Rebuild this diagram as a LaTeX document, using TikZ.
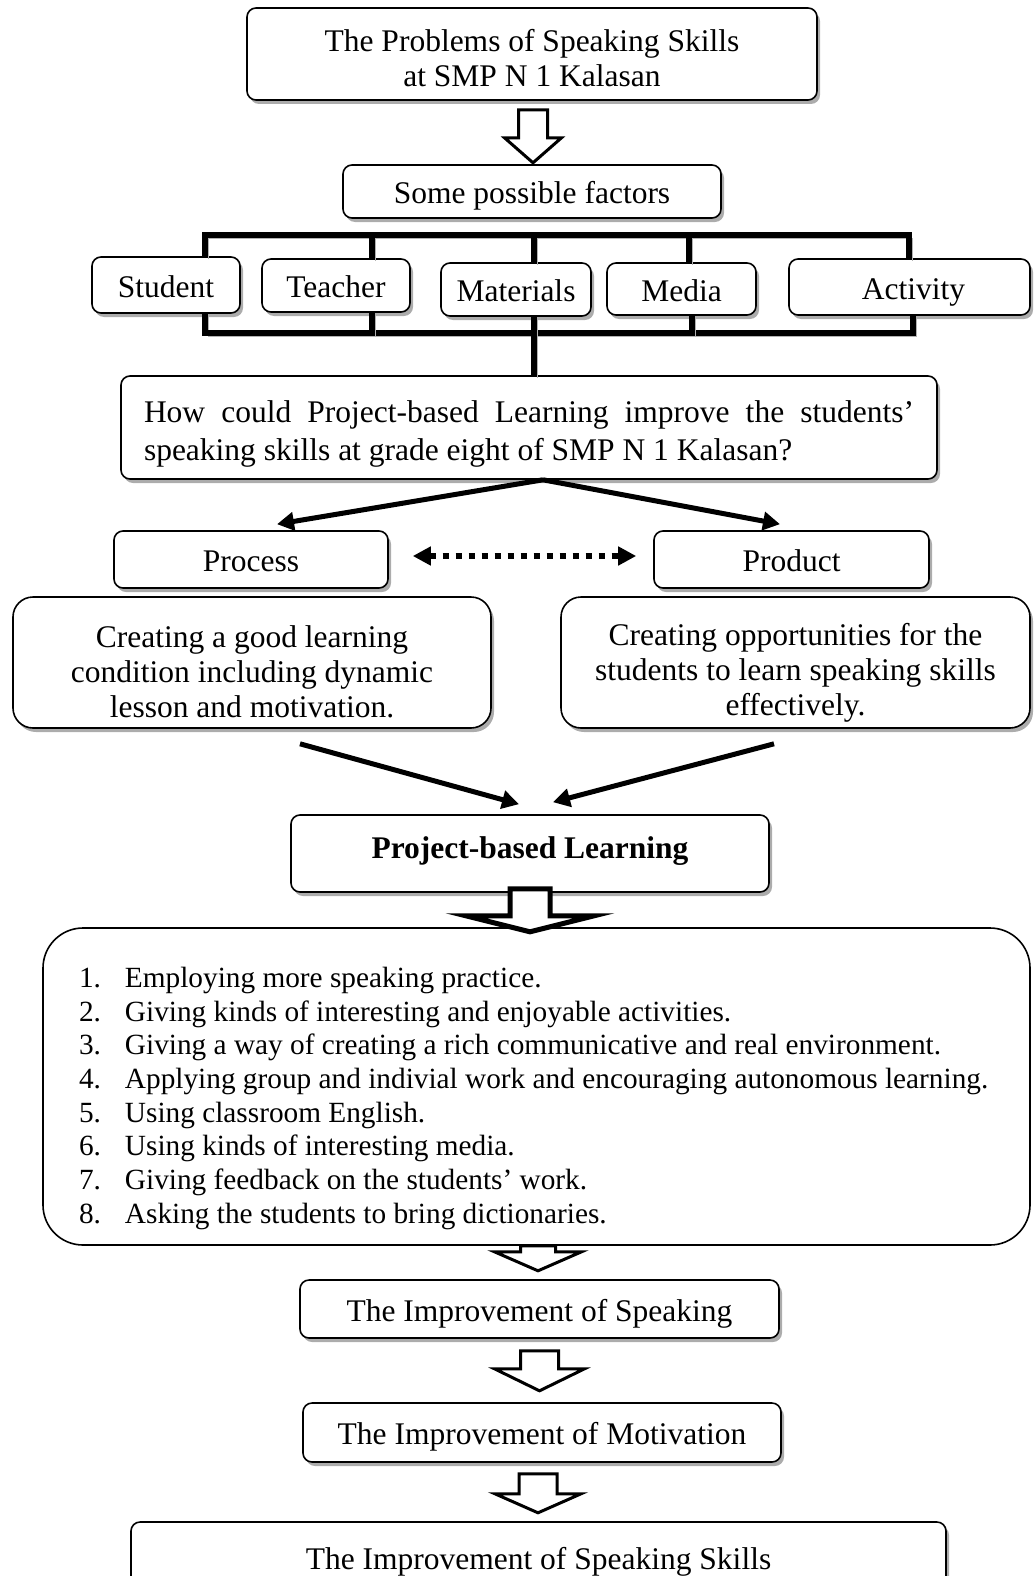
\documentclass[tikz,border=0pt]{standalone}
\usepackage{fontspec}
\setmainfont{Liberation Serif}
\usetikzlibrary{arrows.meta,shadows}

\tikzset{
  box/.style={draw, line width=1.6pt, rounded corners=9pt, fill=white, align=center, inner sep=0pt,
    drop shadow={shadow xshift=3pt, shadow yshift=-4pt, fill=gray!65, opacity=1},
    font=\fontsize{31.5}{35}\selectfont},
  onebox/.style={box, text height=30pt, text depth=6pt},
  bigbox/.style={box, rounded corners=20pt},
  listbox/.style={draw, line width=1.6pt, rounded corners=40pt, fill=white, inner xsep=36pt, inner ysep=0pt,
    align=flush left, font=\fontsize{29.3}{33.7}\selectfont},
  bar/.style={line width=6pt, line join=miter,
    preaction={draw=gray!60, transform canvas={xshift=3pt,yshift=-3pt}}},
  thickarrow/.style={line width=5pt, -{Triangle[length=17pt,width=18pt]}},
  dotarrow/.style={line width=6pt, dash pattern=on 6pt off 7pt,
    {Triangle[length=18pt,width=18pt]}-{Triangle[length=18pt,width=18pt]}},
  hollow/.style={draw, line width=3pt, fill=white, line join=miter},
  pics/blockarrow/.style args={#1/#2/#3/#4}{code={
    \draw[hollow] (-#1,0) -- (#1,0) -- (#1,#3) -- (#2,#3) -- (0,{#3+#4}) -- (-#2,#3) -- (-#1,#3) -- cycle;
  }}
}

\begin{document}
\begin{tikzpicture}[x=1pt,y=-1pt]
\useasboundingbox (0,0) rectangle (1033,1576);

\node[box, minimum width=570pt, minimum height=92pt] (problems) at (532,54) {\rule{0pt}{30pt}The Problems of Speaking Skills\\at SMP N 1 Kalasan};
\node[onebox, minimum width=378pt, minimum height=53pt] (factors) at (532,191.5) {Some possible factors};

\node[onebox, minimum width=148pt, minimum height=56pt] (student) at (166,285) {Student};
\node[onebox, minimum width=148pt, minimum height=53pt] (teacher) at (336,285.5) {Teacher};
\node[onebox, minimum width=150pt, minimum height=53pt] (materials) at (516,289.5) {Materials};
\node[onebox, minimum width=149pt, minimum height=52pt] (media) at (681.5,289) {Media};
\node[onebox, minimum width=241pt, minimum height=56pt] (activity) at (909.5,287) {\hspace*{8pt}Activity};

\node[box, minimum width=816pt, minimum height=103pt, text width=770pt, align=justify,
  font=\fontsize{31.5}{38}\selectfont] (question) at (529,427.5)
  {\rule{0pt}{34pt}How could Project-based Learning improve the students’ speaking skills at grade eight of SMP N 1 Kalasan?};

\node[onebox, minimum width=274pt, minimum height=57pt] (process) at (251,559.5) {Process};
\node[onebox, minimum width=275pt, minimum height=57pt] (product) at (791.5,559.5) {Product};

\node[bigbox, minimum width=478pt, minimum height=131pt] (descleft) at (252,662.5)
  {\rule{0pt}{40pt}Creating a good learning\\condition including dynamic\\lesson and motivation.};
\node[bigbox, minimum width=469pt, minimum height=131pt] (descright) at (795.5,662.5)
  {\rule{0pt}{42pt}Creating opportunities for the\\students to learn speaking skills\\effectively.};

\node[box, minimum width=478pt, minimum height=77pt, text height=21pt, text depth=12pt,
  font=\fontsize{31.5}{35}\selectfont\bfseries] (pbl) at (530,853.5) {Project-based Learning};

\node[listbox, minimum width=987pt, minimum height=317pt, text width=915pt] (steps) at (536.5,1086.5) {%
  \rule{0pt}{44pt}\makebox[46pt][l]{1.}Employing more speaking practice.\\
  \makebox[46pt][l]{2.}Giving kinds of interesting and enjoyable activities.\\
  \makebox[46pt][l]{3.}Giving a way of creating a rich communicative and real environment.\\
  \makebox[46pt][l]{4.}Applying group and indivial work and encouraging autonomous learning.\\
  \makebox[46pt][l]{5.}Using classroom English.\\
  \makebox[46pt][l]{6.}Using kinds of interesting media.\\
  \makebox[46pt][l]{7.}Giving feedback on the students’ work.\\
  \makebox[46pt][l]{8.}Asking the students to bring dictionaries.};

\node[onebox, minimum width=479pt, minimum height=58pt] (imp1) at (539.5,1309) {The Improvement of Speaking};
\node[onebox, minimum width=478pt, minimum height=59pt] (imp2) at (542,1432.5) {The Improvement of Motivation};
\node[onebox, minimum width=815pt, minimum height=66pt, text height=34pt] (imp3) at (538.5,1555) {The Improvement of Speaking Skills};

\coordinate (tl) at (205,235);
\coordinate (tr) at (909,235);
\coordinate (bl) at (205,333);
\coordinate (br) at (913,333);
\draw[bar] (student.north -| tl) -- (tl) -- (tr) -- (activity.north -| tr);
\draw[bar] (student.south -| bl) -- (bl) -- (br) -- (activity.south -| br);
\foreach \n/\x in {teacher/372, materials/534, media/689}{
  \coordinate (top-\n) at (\x,235);
  \draw[bar] (top-\n) -- (top-\n |- \n.north);
}
\foreach \n/\x in {teacher/372, materials/534, media/692}{
  \coordinate (bot-\n) at (\x,333);
  \draw[bar] (bot-\n) -- (bot-\n |- \n.south);
}
\coordinate (bot-mid) at (534,333);
\draw[bar] (bot-mid) -- (bot-mid |- question.north);

\draw[thickarrow] ([xshift=14pt]question.south) -- ([xshift=26pt,yshift=6pt]process.north);
\draw[thickarrow] ([xshift=14pt]question.south) -- ([xshift=-11.5pt,yshift=6pt]product.north);
\draw[dotarrow] ([xshift=24pt,yshift=3.5pt]process.east) -- ([xshift=-17pt,yshift=3.5pt]product.west);

\draw[thickarrow] ([xshift=48pt,yshift=-15pt]descleft.south) -- ([xshift=-11pt,yshift=10pt]pbl.north);
\draw[thickarrow] ([xshift=-21.5pt,yshift=-15pt]descright.south) -- ([xshift=23pt,yshift=12pt]pbl.north);

\pic at ([xshift=1pt,yshift=-9pt]problems.south) {blockarrow=14.5/28.5/28/25};
\pic[hollow/.append style={line width=5pt}] at ([yshift=4pt]pbl.south) {blockarrow=20/64/27/16};
\pic at ([xshift=1.5pt]steps.south) {blockarrow=17.5/43.5/6/19};
\pic at ([yshift=-12pt]imp1.south) {blockarrow=19/45/18/22};
\pic at ([xshift=-4pt,yshift=-11pt]imp2.south) {blockarrow=19/43/20/19};
\end{tikzpicture}
\end{document}
